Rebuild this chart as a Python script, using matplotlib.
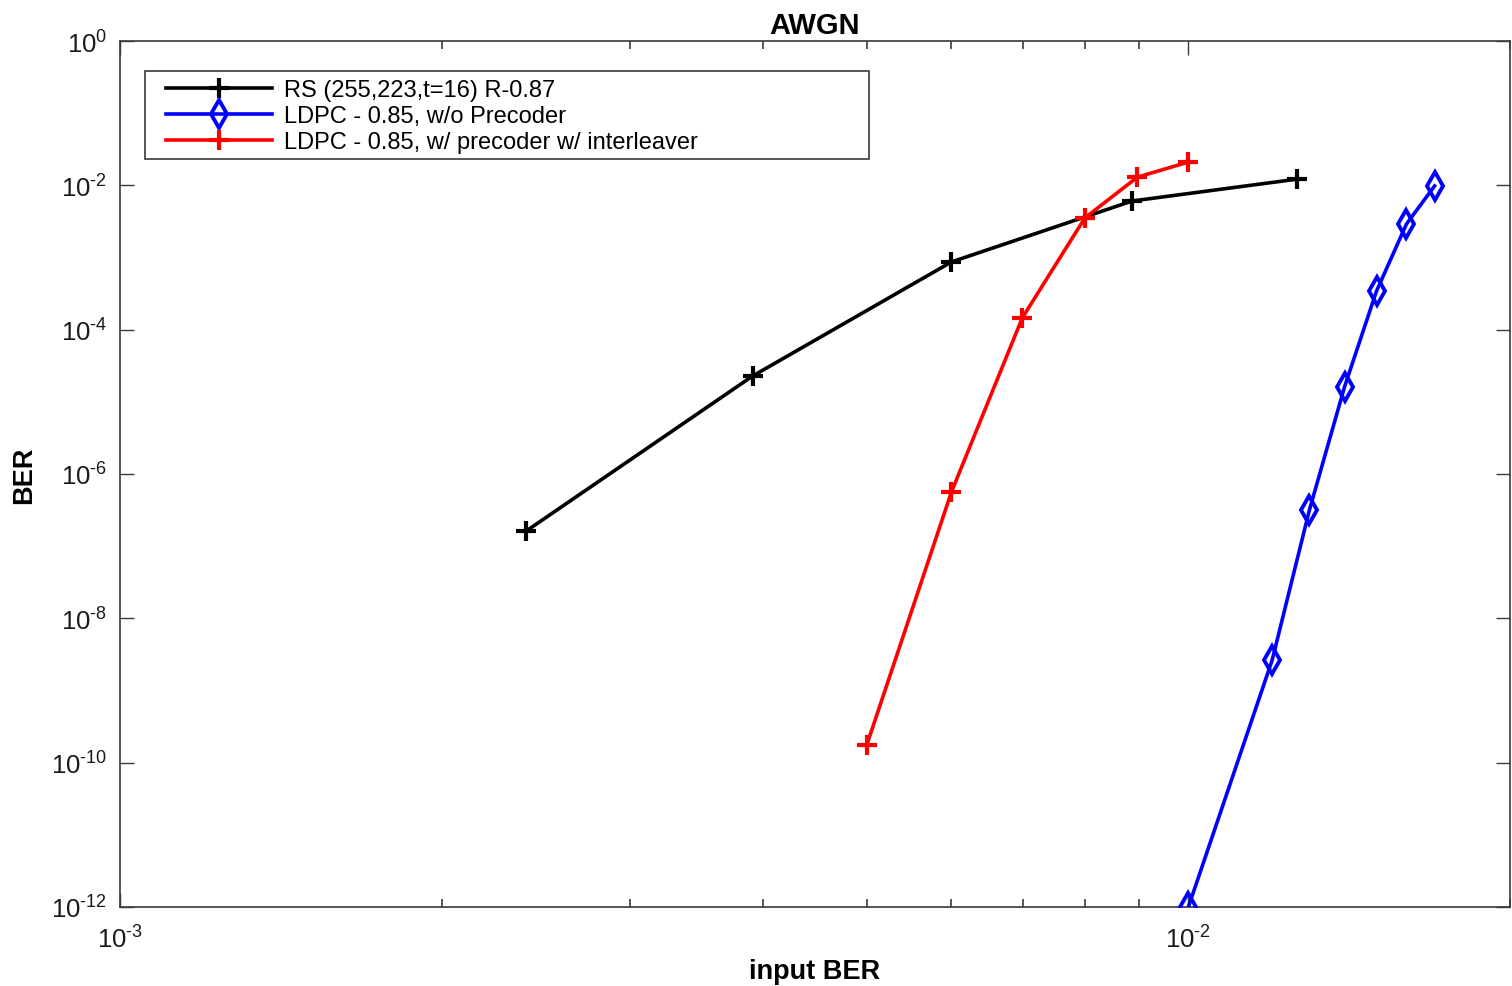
import numpy as np
import matplotlib
matplotlib.use("Agg")
import matplotlib.pyplot as plt
from matplotlib.ticker import LogLocator, NullLocator, FixedLocator, FuncFormatter
from matplotlib.patches import Rectangle

plt.rcParams['font.family'] = ['Liberation Sans', 'DejaVu Sans']
plt.rcParams['mathtext.fontset'] = 'custom'
plt.rcParams['mathtext.rm'] = 'Liberation Sans'
plt.rcParams['mathtext.it'] = 'Liberation Sans:italic'
plt.rcParams['mathtext.bf'] = 'Liberation Sans:bold'

rs_x = [2.40e-3, 3.91e-3, 6.0e-3, 8.86e-3, 1.265e-2]
rs_y = [1.62e-7, 2.28e-5, 8.67e-4, 6.07e-3, 1.22e-2]

ldpc_x = [1.0e-2, 1.198e-2, 1.298e-2, 1.40e-2, 1.50e-2, 1.60e-2, 1.70e-2]
ldpc_y = [1.0e-12, 2.65e-9, 3.17e-7, 1.61e-5, 3.43e-4, 2.91e-3, 9.8e-3]

pre_x = [5.0e-3, 6.0e-3, 6.99e-3, 8.0e-3, 8.96e-3, 1.0e-2]
pre_y = [1.76e-10, 5.6e-7, 1.45e-4, 3.53e-3, 1.3e-2, 2.1e-2]

labels = ['RS (255,223,t=16) R-0.87',
          'LDPC - 0.85, w/o Precoder',
          'LDPC - 0.85, w/ precoder w/ interleaver']

W, H = 1512, 987
fig = plt.figure(figsize=(W / 100, H / 100), dpi=100)
ax = fig.add_axes([120 / W, 1 - 908 / H, 1390 / W, 866 / H])

ax.plot(rs_x, rs_y, color='black', lw=2.6, marker='+', ms=15, mew=3.0, label=labels[0], zorder=3)
ax.plot(ldpc_x, ldpc_y, color='blue', lw=2.6, marker='d', ms=14, mew=2.8,
        mfc='none', label=labels[1], zorder=3)
ax.plot(pre_x, pre_y, color='red', lw=2.6, marker='+', ms=15, mew=3.0, label=labels[2], zorder=3)

ax.set_xscale('log')
ax.set_yscale('log')
ax.set_xlim(1e-3, 2e-2)
ax.set_ylim(1e-12, 1e0)


def pow_fmt(v, pos):
    e = int(round(np.log10(v)))
    s = str(e).replace('-', '\u2010')
    return r'$\mathdefault{10^{%s}}$' % s


ax.yaxis.set_major_locator(FixedLocator([10.0**k for k in range(-12, 1, 2)]))
ax.yaxis.set_minor_locator(NullLocator())
ax.xaxis.set_major_locator(FixedLocator([1e-3, 1e-2]))
ax.xaxis.set_minor_locator(LogLocator(base=10, subs=np.arange(2, 10), numticks=20))
ax.xaxis.set_major_formatter(FuncFormatter(pow_fmt))
ax.yaxis.set_major_formatter(FuncFormatter(pow_fmt))

for s in ax.spines.values():
    s.set_color('#3a3a3a')
    s.set_linewidth(1.2)
ax.tick_params(which='both', direction='in', top=True, right=True, colors='#3a3a3a',
               labelcolor='#1a1a1a', labelsize=18.5)
ax.tick_params(which='major', length=10, width=1.0)
ax.tick_params(which='minor', length=6, width=1.2)
ax.tick_params(axis='x', which='major', pad=13)
ax.tick_params(axis='y', which='major', pad=9)

ax.set_title('AWGN', fontsize=21, fontweight='bold', pad=6)
ax.set_xlabel('input BER', fontsize=19.5, fontweight='bold', labelpad=4)
ax.set_ylabel('BER', fontsize=19.5, fontweight='bold', labelpad=10)

# legend frame
ax.add_patch(Rectangle((145 / W, 1 - 160 / H), 724 / W, 88 / H, transform=fig.transFigure,
                       facecolor='white', edgecolor='#3a3a3a', lw=1.2, zorder=4))
leg = ax.legend(loc='upper left', bbox_to_anchor=(166 / W, 1 - 80 / H),
                bbox_transform=fig.transFigure, fontsize=17,
                frameon=False, handlelength=4.5, handletextpad=0.5, labelspacing=0.18,
                borderpad=0, borderaxespad=0)
leg.set_zorder(5)

fig.savefig('out.png', dpi=100)
